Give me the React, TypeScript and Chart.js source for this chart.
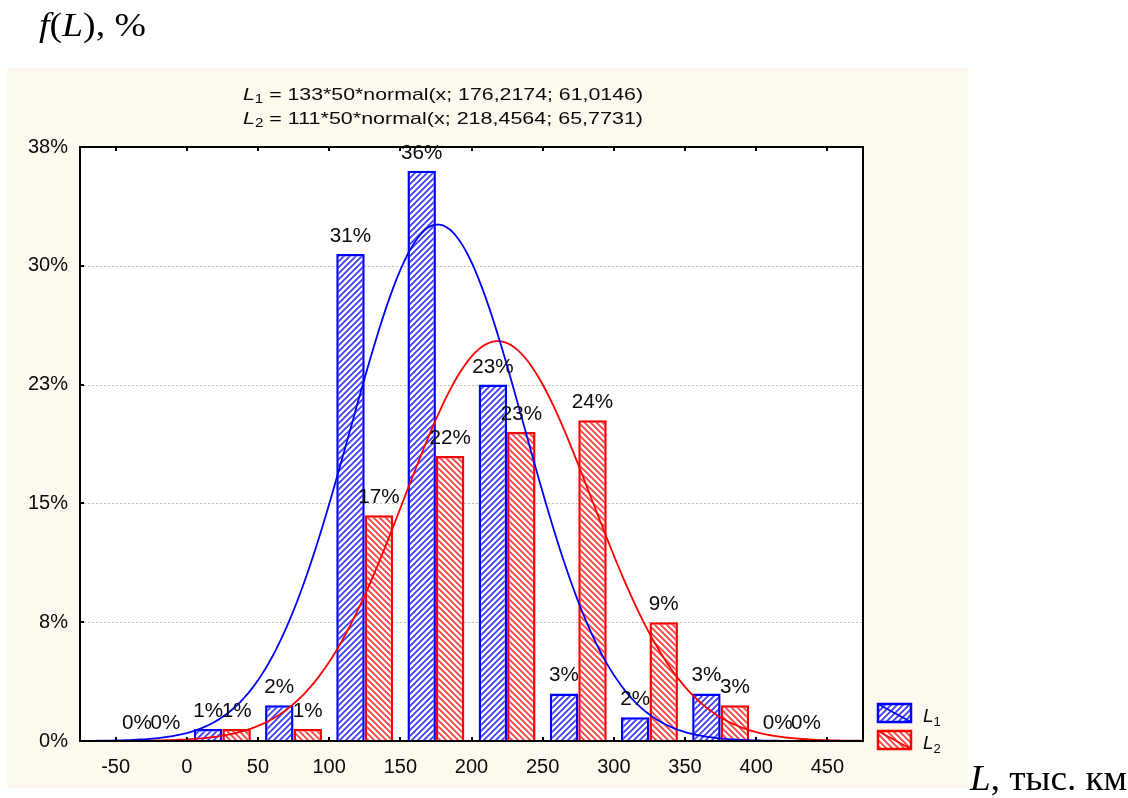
import React, { useEffect, useRef } from 'react';
import { Chart, registerables } from 'chart.js';

Chart.register(...registerables);

// ---- data ----
const BIN_CENTERS = [-25, 25, 75, 125, 175, 225, 275, 325, 375, 425];
const L1_COUNTS = [0, 1, 3, 41, 48, 30, 4, 2, 4, 0];
const L2_COUNTS = [0, 1, 1, 19, 24, 26, 27, 10, 3, 0];
const SERIES_TOTALS = [133, 111];
const FIT_MEANS = [176.2174, 218.4564];
const FIT_SDS = [61.0146, 65.7731];
const BIN_WIDTH = 50;
const X_TICKS = [-50, 0, 50, 100, 150, 200, 250, 300, 350, 400, 450];
const Y_TICK_COUNTS = [0, 10, 20, 30, 40, 50];
const X_RANGE = [-75, 475];
const FORMULA_LINES = [
  { sub: '1', text: ' = 133*50*normal(x; 176,2174; 61,0146)' },
  { sub: '2', text: ' = 111*50*normal(x; 218,4564; 65,7731)' },
];
const LEGEND_SUBS = ['1', '2'];

const BLUE = '#0000ff';
const RED = '#ff0000';
const SANS = '"Liberation Sans", Arial, sans-serif';
const SERIF = '"Liberation Serif", "Times New Roman", serif';
const TEXT = '#0a0a0a';

function normalCurve(n: number, mu: number, sd: number) {
  const pts: { x: number; y: number }[] = [];
  for (let x = X_RANGE[0]; x <= X_RANGE[1] + 1e-9; x += 2.5) {
    const z = (x - mu) / sd;
    const y = (n * BIN_WIDTH) * Math.exp(-0.5 * z * z) / (sd * Math.sqrt(2 * Math.PI));
    pts.push({ x, y });
  }
  return pts;
}

function makePattern(ctx: CanvasRenderingContext2D, color: string, up: boolean) {
  const s = 6;
  const c = document.createElement('canvas');
  c.width = s;
  c.height = s;
  const g = c.getContext('2d')!;
  g.fillStyle = '#ffffff';
  g.fillRect(0, 0, s, s);
  g.strokeStyle = color;
  g.lineWidth = 1.7;
  g.beginPath();
  if (up) {
    g.moveTo(-1, s + 1); g.lineTo(s + 1, -1);
    g.moveTo(-1, 1); g.lineTo(1, -1);
    g.moveTo(s - 1, s + 1); g.lineTo(s + 1, s - 1);
  } else {
    g.moveTo(-1, -1); g.lineTo(s + 1, s + 1);
    g.moveTo(s - 1, -1); g.lineTo(s + 1, 1);
    g.moveTo(-1, s - 1); g.lineTo(1, s + 1);
  }
  g.stroke();
  return ctx.createPattern(c, 'repeat')!;
}

type Run = { text: string; font: string; dy?: number };

function drawRuns(ctx: CanvasRenderingContext2D, runs: Run[], x: number, y: number, targetWidth?: number) {
  ctx.save();
  let total = 0;
  const widths = runs.map((r) => {
    ctx.font = r.font;
    const w = ctx.measureText(r.text).width;
    total += w;
    return w;
  });
  const sx = targetWidth ? targetWidth / total : 1;
  ctx.translate(x, y);
  ctx.scale(sx, 1);
  let cx = 0;
  ctx.textAlign = 'left';
  ctx.textBaseline = 'alphabetic';
  runs.forEach((r, i) => {
    ctx.font = r.font;
    ctx.fillText(r.text, cx, r.dy || 0);
    cx += widths[i];
  });
  ctx.restore();
}

const pctOfAxis = (v: number) => Math.round((v / SERIES_TOTALS[0]) * 100) + '%';

export default function App() {
  const ref = useRef<HTMLCanvasElement>(null);

  useEffect(() => {
    const canvas = ref.current!;
    const ctx = canvas.getContext('2d')!;
    const bluePat = makePattern(ctx, '#3a3aff', true);
    const redPat = makePattern(ctx, '#ff3c3c', false);
    const bluePatL = makePattern(ctx, '#3a3aff', true);
    const redPatL = makePattern(ctx, '#ff3c3c', false);

    const decor = {
      id: 'decor',
      beforeDraw(chart: any) {
        const c = chart.ctx;
        const a = chart.chartArea;
        c.save();
        c.fillStyle = '#ffffff';
        c.fillRect(0, 0, chart.width, chart.height);
        c.fillStyle = 'rgb(253,249,238)';
        c.fillRect(7, 68, 961, 720);
        c.fillStyle = '#ffffff';
        c.fillRect(a.left, a.top, a.right - a.left, a.bottom - a.top);
        c.restore();
      },
      beforeDatasetsDraw(chart: any) {
        const c = chart.ctx;
        const a = chart.chartArea;
        const ys = chart.scales.y;
        c.save();
        c.strokeStyle = '#bdbdbd';
        c.lineWidth = 1;
        c.setLineDash([2, 2]);
        Y_TICK_COUNTS.forEach((v) => {
          if (v <= 0 || v >= 50) return;
          const py = Math.round(ys.getPixelForValue(v)) + 0.5;
          c.beginPath();
          c.moveTo(a.left, py);
          c.lineTo(a.right, py);
          c.stroke();
        });
        c.restore();
      },
      afterDraw(chart: any) {
        const c = chart.ctx;
        const a = chart.chartArea;
        const xs = chart.scales.x;
        const ys = chart.scales.y;
        c.save();
        // frame
        c.strokeStyle = '#000';
        c.lineWidth = 2;
        c.strokeRect(a.left, a.top, a.right - a.left, a.bottom - a.top);
        // inward ticks
        c.lineWidth = 2;
        X_TICKS.forEach((v) => {
          const px = Math.round(xs.getPixelForValue(v));
          c.beginPath();
          c.moveTo(px, a.bottom);
          c.lineTo(px, a.bottom - 4);
          c.moveTo(px, a.top);
          c.lineTo(px, a.top + 4);
          c.stroke();
        });
        Y_TICK_COUNTS.forEach((v) => {
          const py = Math.round(ys.getPixelForValue(v));
          c.beginPath();
          c.moveTo(a.left, py);
          c.lineTo(a.left + 4, py);
          c.stroke();
        });
        // bar value labels
        c.fillStyle = TEXT;
        c.textAlign = 'center';
        c.textBaseline = 'alphabetic';
        [2, 3].forEach((di, k) => {
          const meta = chart.getDatasetMeta(di);
          const counts = k === 0 ? L1_COUNTS : L2_COUNTS;
          meta.data.forEach((el: any, i: number) => {
            const txt = Math.round((counts[i] / SERIES_TOTALS[k]) * 100) + '%';
            c.save();
            c.translate(el.x, el.y - 12);
            c.scale(1.06, 1);
            c.font = '19.5px ' + SANS;
            c.fillText(txt, 0, 0);
            c.restore();
          });
        });
        // formula
        c.fillStyle = TEXT;
        FORMULA_LINES.forEach((ln, i) => {
          drawRuns(
            c,
            [
              { text: 'L', font: 'italic 17px ' + SANS },
              { text: ln.sub, font: '12px ' + SANS, dy: 3 },
              { text: ln.text, font: '17px ' + SANS },
            ],
            243,
            100 + i * 24,
            400
          );
        });
        // legend
        const pats = [bluePatL, redPatL];
        const cols = [BLUE, RED];
        LEGEND_SUBS.forEach((sub, i) => {
          const bx = 878, by = 704 + i * 27, bw = 33, bh = 18;
          c.fillStyle = pats[i];
          c.fillRect(bx, by, bw, bh);
          c.strokeStyle = cols[i];
          c.lineWidth = 2.5;
          c.strokeRect(bx, by, bw, bh);
          c.lineWidth = 1.5;
          c.beginPath();
          c.moveTo(bx, by);
          c.lineTo(bx + bw, by + bh);
          c.stroke();
          c.fillStyle = TEXT;
          drawRuns(
            c,
            [
              { text: 'L', font: 'italic 19px ' + SANS },
              { text: sub, font: '13px ' + SANS, dy: 4 },
            ],
            923,
            722 + i * 27
          );
        });
        // axis titles
        c.fillStyle = '#000';
        drawRuns(
          c,
          [
            { text: 'f', font: 'italic 34px ' + SERIF },
            { text: '(', font: '34px ' + SERIF },
            { text: 'L', font: 'italic 34px ' + SERIF },
            { text: '), %', font: '34px ' + SERIF },
          ],
          39,
          36,
          107
        );
        drawRuns(
          c,
          [
            { text: 'L', font: 'italic 36px ' + SERIF },
            { text: ', тыс. км', font: '36px ' + SERIF },
          ],
          970,
          790,
          157
        );
        c.restore();
      },
    };

    const chart = new Chart(canvas, {
      type: 'bar',
      data: {
        datasets: [
          {
            type: 'line',
            data: normalCurve(SERIES_TOTALS[0], FIT_MEANS[0], FIT_SDS[0]),
            borderColor: BLUE,
            borderWidth: 1.8,
            pointRadius: 0,
            tension: 0,
            order: 0,
          } as any,
          {
            type: 'line',
            data: normalCurve(SERIES_TOTALS[1], FIT_MEANS[1], FIT_SDS[1]),
            borderColor: RED,
            borderWidth: 1.8,
            pointRadius: 0,
            tension: 0,
            order: 0,
          } as any,
          {
            type: 'bar',
            data: BIN_CENTERS.map((x, i) => ({ x, y: L1_COUNTS[i] })),
            backgroundColor: bluePat,
            borderColor: BLUE,
            borderWidth: 2.5,
            categoryPercentage: 0.8,
            barPercentage: 1,
            order: 1,
          } as any,
          {
            type: 'bar',
            data: BIN_CENTERS.map((x, i) => ({ x, y: L2_COUNTS[i] })),
            backgroundColor: redPat,
            borderColor: RED,
            borderWidth: 2.5,
            categoryPercentage: 0.8,
            barPercentage: 1,
            order: 1,
          } as any,
        ],
      },
      options: {
        responsive: false,
        devicePixelRatio: 1,
        animation: false,
        layout: { padding: { left: 0, top: 147, right: 265, bottom: 0 } },
        plugins: { legend: { display: false }, tooltip: { enabled: false } },
        scales: {
          x: {
            type: 'linear',
            offset: false,
            min: X_RANGE[0],
            max: X_RANGE[1],
            grid: { display: false, drawTicks: false, offset: false },
            border: { display: false },
            afterBuildTicks: (scale: any) => {
              scale.ticks = X_TICKS.map((v) => ({ value: v }));
            },
            afterFit: (scale: any) => {
              scale.height = 57;
            },
            ticks: {
              autoSkip: false,
              maxRotation: 0,
              padding: 14,
              color: TEXT,
              font: { family: SANS, size: 20 },
              callback: (v: any) => String(v),
            },
          },
          y: {
            min: 0,
            max: 50,
            grid: { display: false, drawTicks: false },
            border: { display: false },
            afterBuildTicks: (scale: any) => {
              scale.ticks = Y_TICK_COUNTS.map((v) => ({ value: v }));
            },
            afterFit: (scale: any) => {
              scale.width = 80;
            },
            ticks: {
              padding: 12,
              color: TEXT,
              font: { family: SANS, size: 20 },
              callback: (v: any) => pctOfAxis(Number(v)),
            },
          },
        },
      } as any,
      plugins: [decor],
    });

    return () => chart.destroy();
  }, []);

  return (
    <div style={{ position: 'absolute', left: 0, top: 0, width: 1128, height: 798 }}>
      <canvas ref={ref} width={1128} height={798} style={{ display: 'block', width: 1128, height: 798 }} />
    </div>
  );
}
